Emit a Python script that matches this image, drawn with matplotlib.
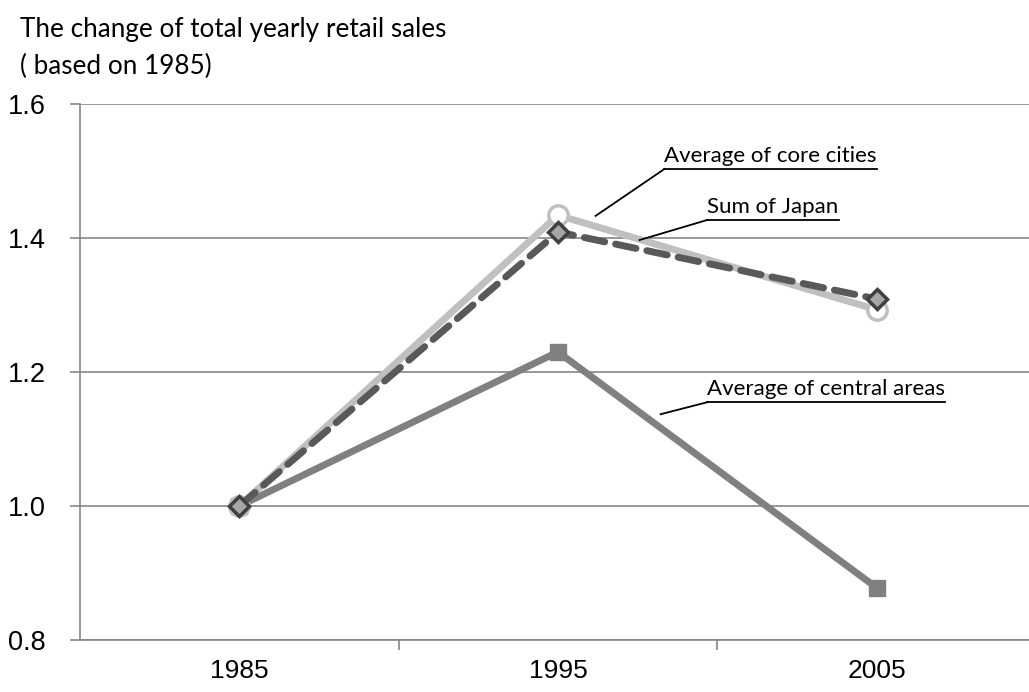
import matplotlib
matplotlib.use('Agg')
import matplotlib.pyplot as plt
import numpy as np

years = ['1985', '1995', '2005']
core_cities = [1.0, 1.434, 1.293]
sum_japan = [1.0, 1.409, 1.309]
central_areas = [1.0, 1.230, 0.878]
y_ticks = [0.8, 1.0, 1.2, 1.4, 1.6]

grid_col = '#868686'

fig = plt.figure(figsize=(10.29, 6.92), dpi=100)
ax = fig.add_axes([0.0777, 0.0751, 0.9223, 0.7746])

x = np.arange(len(years))

ax.plot(x, central_areas, color='#808080', lw=5, marker='s', ms=11,
        mfc='#808080', mec='#808080', solid_capstyle='butt', zorder=3)
ax.plot(x, core_cities, color='#c0c0c0', lw=5, marker='o', ms=14,
        mfc='white', mec='#c0c0c0', mew=2.5, zorder=4)
ax.plot(x, sum_japan, color='#595959', lw=5, ls=(0, (3, 1.6)), marker='D',
        ms=10, mfc='#a6a6a6', mec='#404040', mew=2.5,
        dash_capstyle='round', zorder=5)

ax.set_xlim(-0.5, 2.478)
ax.set_ylim(0.8, 1.6)
ax.set_yticks(y_ticks)
ax.set_yticklabels(['%.1f' % v for v in y_ticks], family='Liberation Sans',
                   fontsize=19.5)
ax.set_xticks(x)
ax.set_xticklabels(years, family='Liberation Sans', fontsize=19)
ax.set_xticks([0.5, 1.5], minor=True)
ax.tick_params(axis='x', which='major', length=0, pad=14)
ax.tick_params(axis='x', which='minor', length=7, color=grid_col, width=1.2)
ax.tick_params(axis='y', length=7, color=grid_col, width=1.2, pad=45)
for lab in ax.get_yticklabels():
    lab.set_horizontalalignment('left')

ax.grid(axis='y', color=grid_col, lw=1.2)
ax.set_axisbelow(True)
for side in ['top', 'right']:
    ax.spines[side].set_visible(False)
for side in ['left', 'bottom']:
    ax.spines[side].set_color(grid_col)
    ax.spines[side].set_linewidth(1.2)

fig.text(0.019, 0.975, 'The change of total yearly retail sales\n( based on 1985)',
         family='Lato', fontsize=18.8, va='top', ha='left', linespacing=1.6)

# series labels: underlined text with a leader line
labels = [
    ('Average of core cities', (1.334, 1.503), (1.118, 1.433)),
    ('Sum of Japan', (1.469, 1.427), (1.256, 1.397)),
    ('Average of central areas', (1.469, 1.155), (1.322, 1.137)),
]
texts = []
for text, pos, tip in labels:
    t = ax.text(pos[0], pos[1] + 0.004, text, family='Lato', fontsize=16,
                ha='left', va='bottom', zorder=6)
    ax.plot([tip[0], pos[0]], [tip[1], pos[1]], color='black', lw=1.3,
            zorder=6)
    texts.append((t, pos))

fig.canvas.draw()
inv = ax.transData.inverted()
for t, pos in texts:
    bb = t.get_window_extent()
    x1 = inv.transform((bb.x1, bb.y0))[0]
    ax.plot([pos[0], x1], [pos[1], pos[1]], color='black', lw=1.3, zorder=6)

fig.savefig('out.png', dpi=100)
